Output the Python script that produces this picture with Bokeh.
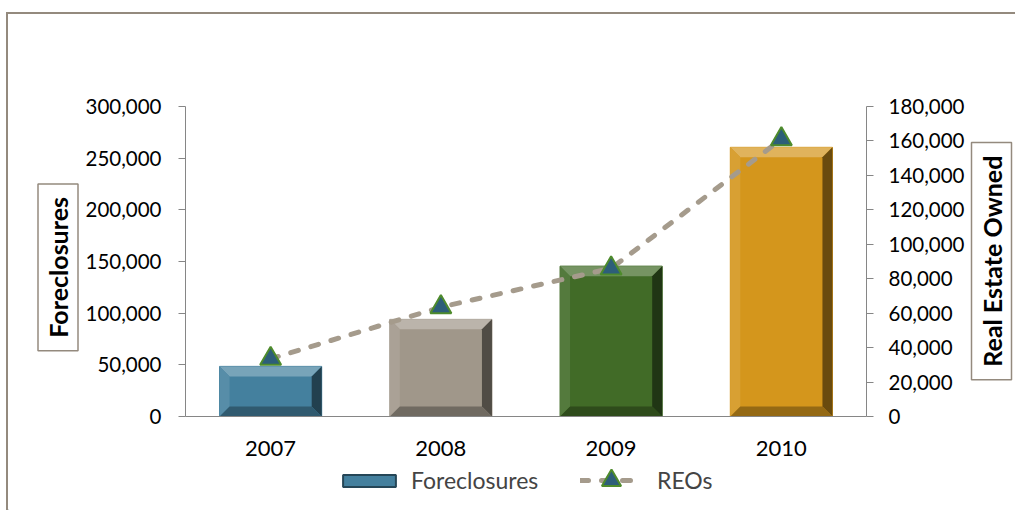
import numpy as np
from bokeh.plotting import figure
from bokeh.layouts import row, column
from bokeh.models import (FactorRange, Range1d, LinearAxis, SingleIntervalTicker,
                          NumeralTickFormatter, Label, Legend, LegendItem, ColumnDataSource)
from bokeh.embed import file_html
from bokeh.resources import INLINE

# ---- data ----
years = ["2007", "2008", "2009", "2010"]
foreclosures = [48500, 94000, 145500, 260500]
reos = [33500, 63500, 86000, 161000]
bar_colors = ["#44809E", "#A0978A", "#416B27", "#D4961C"]
left_max = 300000
left_step = 50000
right_max = 180000
right_step = 20000
left_title = "Foreclosures"
right_title = "Real Estate Owned"
series_names = ["Foreclosures", "REOs"]

FONT = "Lato"
AXIS_COLOR = "#868686"
FRAME_COLOR = "#948A7E"
LINE_COLOR = "#A59B8C"
TRI_FILL = "#2D5E79"
TRI_LINE = "#4E8B2C"

# ---- geometry ----
TOTAL_W = 1007
LW, RW = 74, 50
MW = TOTAL_W - LW - RW
ML, MR, MT, MB = 100, 102, 92, 49
frame_w = MW - ML - MR
frame_h = 310
H = MT + frame_h + MB
LEG_H = 496 - H


def bare(width, height):
    f = figure(width=width, height=height, x_range=Range1d(0, width), y_range=Range1d(0, height),
               x_axis_type=None, y_axis_type=None, output_backend="svg", toolbar_location=None,
               min_border=0)
    f.outline_line_color = None
    f.xgrid.visible = False
    f.ygrid.visible = False
    return f


def mix(c, t, a):
    c = c.lstrip("#")
    r, g, b = int(c[0:2], 16), int(c[2:4], 16), int(c[4:6], 16)
    tv = 255 if t == "w" else 0
    r = round(r + (tv - r) * a); g = round(g + (tv - g) * a); b = round(b + (tv - b) * a)
    return "#%02x%02x%02x" % (r, g, b)


# ---- main chart ----
p = figure(x_range=FactorRange(factors=years), y_range=Range1d(0, left_max),
           frame_width=frame_w, frame_height=frame_h, output_backend="svg", toolbar_location=None,
           min_border_left=ML, min_border_right=MR, min_border_top=MT, min_border_bottom=MB)
p.outline_line_color = None
p.xgrid.visible = False
p.ygrid.visible = False
p.extra_y_ranges = {"reo": Range1d(0, right_max)}

bar_w = 0.6
src = ColumnDataSource(dict(x=years, top=foreclosures, color=bar_colors))
p.vbar(x="x", top="top", width=bar_w, color="color", source=src)

# bevel effect
bev = 10
dx = bev / frame_w * len(years)
dy = bev / frame_h * left_max
xs, ys, cs = [], [], []
for i, (v, c) in enumerate(zip(foreclosures, bar_colors)):
    xc = i + 0.5
    x0, x1 = xc - bar_w / 2, xc + bar_w / 2
    y0, y1 = 0, v
    xs += [[x0, x1, x1 - dx, x0 + dx], [x0, x0, x0 + dx, x0 + dx],
           [x1, x1, x1 - dx, x1 - dx], [x0, x1, x1 - dx, x0 + dx]]
    ys += [[y1, y1, y1 - dy, y1 - dy], [y0, y1, y1 - dy, y0 + dy],
           [y0, y1, y1 - dy, y0 + dy], [y0, y0, y0 + dy, y0 + dy]]
    cs += [mix(c, "w", 0.28), mix(c, "w", 0.1), mix(c, "b", 0.5), mix(c, "b", 0.3)]
p.patches(xs=xs, ys=ys, fill_color=cs, line_color=None)

p.line(x=years, y=reos, y_range_name="reo", line_color=LINE_COLOR, line_width=5,
       line_dash="8 13", line_cap="round")
p.scatter(x=years, y=reos, y_range_name="reo", marker="triangle", size=21,
          fill_color=TRI_FILL, line_color=TRI_LINE, line_width=2)

ax = p.yaxis[0]
ax.ticker = SingleIntervalTicker(interval=left_step)
ax.formatter = NumeralTickFormatter(format="0,0")
right = LinearAxis(y_range_name="reo", ticker=SingleIntervalTicker(interval=right_step),
                   formatter=NumeralTickFormatter(format="0,0"))
p.add_layout(right, "right")
for a in (ax, right):
    a.axis_line_color = AXIS_COLOR
    a.major_tick_line_color = AXIS_COLOR
    a.major_tick_out = 7
    a.major_tick_in = 0
    a.minor_tick_line_color = None
    a.major_label_text_font = FONT
    a.major_label_text_font_size = "20.5px"
    a.major_label_text_color = "black"
ax.major_label_standoff = 17
right.major_label_standoff = 15

xa = p.xaxis[0]
xa.axis_line_color = AXIS_COLOR
xa.major_tick_line_color = None
xa.major_tick_out = 0
xa.minor_tick_line_color = None
xa.major_label_text_font = FONT
xa.major_label_text_font_size = "22px"
xa.major_label_text_color = "black"
xa.major_label_standoff = 24

# ---- boxed axis titles (side strips) ----
mid_y = H - (MT + frame_h / 2)
title_style = dict(angle=np.pi / 2, text_align="center", text_baseline="middle",
                   text_font=FONT, text_font_style="bold", text_font_size="25px",
                   text_color="black", border_line_color=FRAME_COLOR, border_line_width=1.5,
                   background_fill_color="white",
                   padding=dict(left=13, right=13, top=5, bottom=5))
lf = bare(LW, H)
lf.add_layout(Label(x=49.5, y=mid_y + 13, text=left_title, **title_style))
rf = bare(RW, H)
rf.add_layout(Label(x=23, y=mid_y + 22, text=right_title, **title_style))

# ---- legend strip: proxy renderers sit far outside the visible range ----
lg = figure(width=TOTAL_W, height=LEG_H, x_range=Range1d(0, 1), y_range=Range1d(0, 1),
            x_axis_type=None, y_axis_type=None,
            output_backend="svg", toolbar_location=None, min_border=0)
lg.outline_line_color = None
lg.xgrid.visible = False
lg.ygrid.visible = False
off = -10
lbar = lg.vbar(x=[off], top=[off], bottom=[off - 1], width=0.5, fill_color=bar_colors[0],
               line_color=mix(bar_colors[0], "b", 0.45), line_width=2)
lline = lg.line(x=[off, off - 1], y=[off, off], line_color=LINE_COLOR, line_width=5,
                line_dash="8 13", line_cap="round")
lpts = lg.scatter(x=[off], y=[off], marker="triangle", size=19,
                  fill_color=TRI_FILL, line_color=TRI_LINE, line_width=2)
leg_style = dict(orientation="horizontal", label_text_font=FONT, label_text_font_size="23px",
                 label_height=28, border_line_color=None, padding=0, margin=0,
                 background_fill_alpha=0)
leg1 = Legend(items=[LegendItem(label=series_names[0], renderers=[lbar])],
              location=(328, 16), glyph_width=66, glyph_height=15, label_standoff=9, **leg_style)
leg2 = Legend(items=[LegendItem(label=series_names[1], renderers=[lline, lpts])],
              location=(572, 6), glyph_width=62, glyph_height=48, label_standoff=15, **leg_style)
lg.add_layout(leg1, "center")
lg.add_layout(leg2, "center")

layout = column(row(lf, p, rf), lg)
layout.styles = {"border-top": "2px solid " + FRAME_COLOR, "border-left": "2px solid " + FRAME_COLOR,
                 "margin-top": "12px", "margin-left": "6px"}

open("out.html", "w").write(file_html(layout, INLINE))
